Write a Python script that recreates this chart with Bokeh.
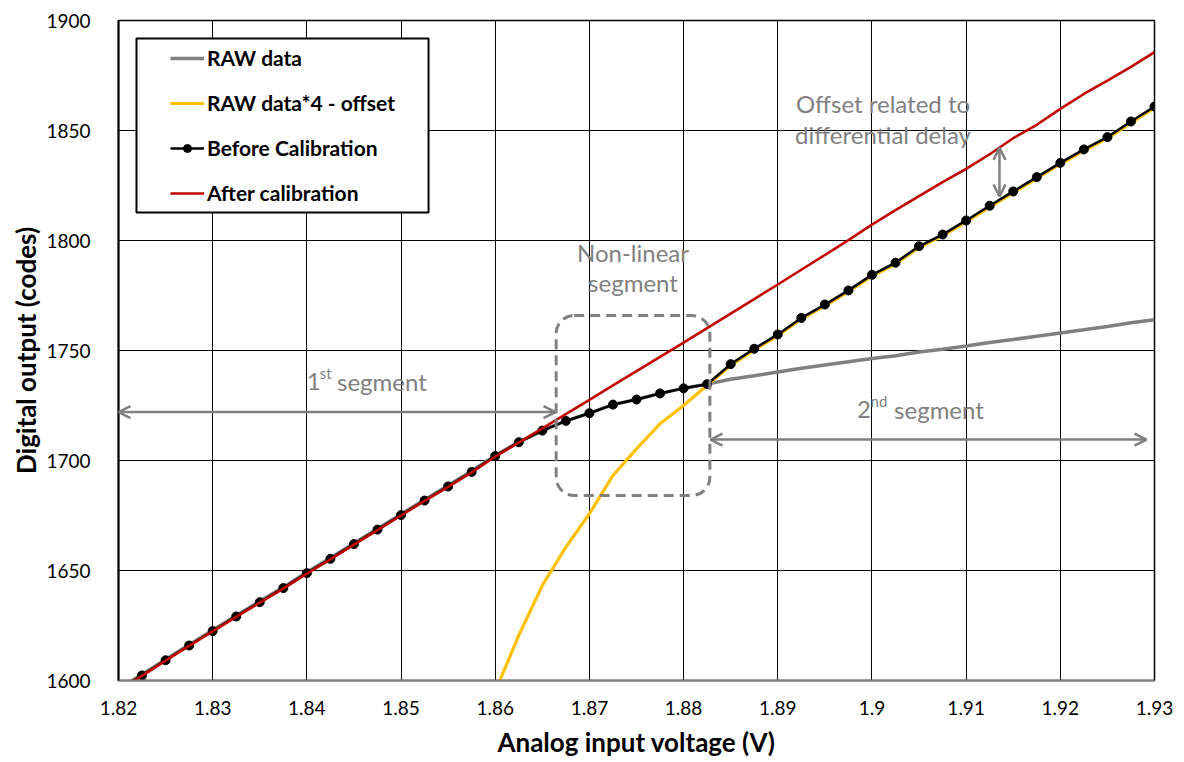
from bokeh.plotting import figure
from bokeh.models import (Range1d, FixedTicker, Legend, LegendItem, Label,
                          Arrow, OpenHead, BoxAnnotation)
from bokeh.embed import file_html
from bokeh.resources import INLINE

# ---------------- data ----------------
voltage = [1.82, 1.8225, 1.825, 1.8275, 1.83, 1.8325, 1.835, 1.8375, 1.84, 1.8425,
           1.845, 1.8475, 1.85, 1.8525, 1.855, 1.8575, 1.86, 1.8625, 1.865, 1.8675,
           1.87, 1.8725, 1.875, 1.8775, 1.88, 1.8825, 1.885, 1.8875, 1.89, 1.8925,
           1.895, 1.8975, 1.90, 1.9025, 1.905, 1.9075, 1.91, 1.9125, 1.915, 1.9175,
           1.92, 1.9225, 1.925, 1.9275, 1.93]

before_cal = [1595.8, 1602.3, 1609.2, 1615.9, 1622.5, 1629.1, 1635.6, 1642.0, 1648.8, 1655.3,
              1662.0, 1668.6, 1675.2, 1681.8, 1688.2, 1694.8, 1702.0, 1708.3, 1713.6, 1718.0,
              1721.5, 1725.4, 1727.7, 1730.5, 1732.8, 1734.7, 1743.8, 1750.8, 1757.3, 1764.8,
              1770.9, 1777.3, 1784.4, 1789.9, 1797.4, 1802.7, 1809.1, 1815.8, 1822.3, 1828.8,
              1835.3, 1841.4, 1847.0, 1854.1, 1860.9]

raw_data = [1596.2, 1602.7, 1609.6, 1616.3, 1622.9, 1629.5, 1636.0, 1642.4, 1649.2, 1655.7,
            1662.4, 1669.0, 1675.6, 1682.2, 1688.6, 1695.2, 1702.3, 1708.4, 1713.6, 1718.0,
            1721.5, 1725.4, 1727.7, 1730.5, 1732.8, 1734.7, 1736.9, 1738.5, 1740.2, 1741.9,
            1743.4, 1744.9, 1746.4, 1747.6, 1749.3, 1750.6, 1752.0, 1753.6, 1755.0, 1756.5,
            1758.0, 1759.4, 1760.9, 1762.6, 1764.0]

after_cal = [1595.5, 1602.1, 1609.0, 1615.7, 1622.3, 1628.9, 1635.4, 1641.8, 1648.6, 1655.1,
             1661.8, 1668.4, 1675.0, 1681.6, 1688.0, 1694.6, 1701.8, 1708.1, 1714.6, 1721.1,
             1727.6, 1734.1, 1740.6, 1747.1, 1753.6, 1760.2, 1766.8, 1773.4, 1780.0, 1786.7,
             1793.4, 1800.2, 1807.2, 1813.8, 1820.2, 1826.5, 1832.6, 1839.2, 1846.5, 1852.6,
             1859.8, 1866.6, 1872.7, 1878.9, 1885.6]

scaled_voltage = [1.8575, 1.86, 1.8625, 1.865, 1.8675, 1.87, 1.8725, 1.875, 1.8775, 1.88,
                  1.8825, 1.885, 1.8875, 1.89, 1.8925, 1.895, 1.8975, 1.90, 1.9025, 1.905,
                  1.9075, 1.91, 1.9125, 1.915, 1.9175, 1.92, 1.9225, 1.925, 1.9275, 1.93]
raw_x4_offset = [1568.0, 1595.0, 1620.5, 1643.2, 1660.6, 1675.8, 1693.2, 1705.3, 1716.7, 1725.0,
                 1734.2, 1743.2, 1750.2, 1756.7, 1764.2, 1770.3, 1776.7, 1783.8, 1789.3, 1796.8,
                 1802.1, 1808.5, 1815.2, 1821.7, 1828.2, 1834.7, 1840.8, 1846.4, 1853.5, 1860.3]

x_ticks = [1.82, 1.83, 1.84, 1.85, 1.86, 1.87, 1.88, 1.89, 1.9, 1.91, 1.92, 1.93]
x_tick_labels = ["1.82", "1.83", "1.84", "1.85", "1.86", "1.87", "1.88", "1.89", "1.9",
                 "1.91", "1.92", "1.93"]
y_ticks = [1600, 1650, 1700, 1750, 1800, 1850, 1900]
y_tick_labels = ["1600", "1650", "1700", "1750", "1800", "1850", "1900"]

series_names = ["RAW data", "RAW data*4 - offset", "Before Calibration", "After calibration"]

# ---------------- style ----------------
FONT = "Lato"
GRAY = "#808080"
YELLOW = "#FFC000"
RED = "#C00000"
BLACK = "#000000"

p = figure(width=1180, height=760,
           x_range=Range1d(1.82, 1.93), y_range=Range1d(1600, 1900),
           output_backend="svg", toolbar_location=None,
           min_border_left=118, min_border_right=26,
           min_border_top=20, min_border_bottom=80)

p.background_fill_color = "white"
p.border_fill_color = "white"
p.outline_line_color = BLACK
p.outline_line_width = 1.5

# axes
p.xaxis.ticker = FixedTicker(ticks=x_ticks)
p.yaxis.ticker = FixedTicker(ticks=y_ticks)
p.xaxis.major_label_overrides = dict(zip(x_ticks, x_tick_labels))
p.yaxis.major_label_overrides = dict(zip(y_ticks, y_tick_labels))
for ax in (p.xaxis[0], p.yaxis[0]):
    ax.major_tick_line_color = None
    ax.minor_tick_line_color = None
    ax.major_label_text_font = FONT
    ax.major_label_text_font_size = "19px"
    ax.major_label_text_color = BLACK
    ax.axis_label_text_font = FONT
    ax.axis_label_text_font_style = "bold"
    ax.axis_label_text_font_size = "26px"
    ax.axis_label_text_color = BLACK
p.xaxis.axis_label = "Analog input voltage (V)"
p.yaxis.axis_label = "Digital output (codes)"
p.xaxis.axis_line_color = GRAY
p.xaxis.axis_line_width = 2
p.yaxis.axis_line_color = BLACK
p.yaxis.axis_line_width = 2
p.xaxis.major_label_standoff = 14
p.yaxis.major_label_standoff = 22
p.xaxis.axis_label_standoff = 8
p.yaxis.axis_label_standoff = 1

# grid
p.xgrid.ticker = FixedTicker(ticks=x_ticks)
p.ygrid.ticker = FixedTicker(ticks=y_ticks)
for g in (p.xgrid[0], p.ygrid[0]):
    g.grid_line_color = BLACK
    g.grid_line_width = 1
    g.grid_line_alpha = 1.0

# ---------------- series ----------------
r_raw = p.line(voltage, raw_data, line_color=GRAY, line_width=3.5)
r_yel = p.line(scaled_voltage, raw_x4_offset, line_color=YELLOW, line_width=3.2)
r_blk = p.line(voltage, before_cal, line_color=BLACK, line_width=2.6)
r_dot = p.scatter(voltage, before_cal, marker="circle", size=9,
                  fill_color=BLACK, line_color=BLACK)
r_red = p.line(voltage, after_cal, line_color=RED, line_width=2.6)

# ---------------- annotations ----------------
# non-linear segment dashed rounded box
p.add_layout(BoxAnnotation(left=1.86647, right=1.88279, bottom=1684.1, top=1765.9,
                           fill_alpha=0, line_color=GRAY, line_alpha=1.0, line_width=3,
                           line_dash="10 6", border_radius=18))

head = dict(size=12, line_color=GRAY, line_width=2.5)
# 1st segment arrow
p.add_layout(Arrow(x_start=1.82, y_start=1722.0, x_end=1.8664, y_end=1722.0,
                   start=OpenHead(**head), end=OpenHead(**head),
                   line_color=GRAY, line_width=2.5))
# 2nd segment arrow
p.add_layout(Arrow(x_start=1.88286, y_start=1709.5, x_end=1.92915, y_end=1709.5,
                   start=OpenHead(**head), end=OpenHead(**head),
                   line_color=GRAY, line_width=2.5))
# offset arrow
p.add_layout(Arrow(x_start=1.91354, y_start=1820.0, x_end=1.91354, y_end=1842.1,
                   start=OpenHead(**head), end=OpenHead(**head),
                   line_color=GRAY, line_width=2.5))

def lbl(x, y, text, size="24px", align="left"):
    p.add_layout(Label(x=x, y=y, text=text, text_font=FONT, text_font_size=size,
                       text_color=GRAY, text_align=align, text_baseline="alphabetic"))

lbl(1.84000, 1736.0, "1")
lbl(1.84138, 1739.8, "st", size="15px")
lbl(1.84320, 1736.0, "segment")
lbl(1.89840, 1723.3, "2")
lbl(1.89985, 1727.2, "nd", size="15px")
lbl(1.90235, 1723.3, "segment")
lbl(1.87463, 1794.4, "Non-linear", align="center")
lbl(1.87463, 1780.8, "segment", align="center")
lbl(1.90117, 1862.5, "Offset related to", align="center")
lbl(1.90117, 1848.4, "differential delay", align="center")

# legend frame
p.add_layout(BoxAnnotation(left=1.82191, right=1.85292, bottom=1812.7, top=1891.8,
                           fill_color="white", fill_alpha=1.0,
                           line_color=BLACK, line_alpha=1.0, line_width=2))

legend = Legend(items=[LegendItem(label=series_names[0], renderers=[r_raw]),
                       LegendItem(label=series_names[1], renderers=[r_yel]),
                       LegendItem(label=series_names[2], renderers=[r_blk, r_dot]),
                       LegendItem(label=series_names[3], renderers=[r_red])],
                location=(52, 475), padding=0, margin=0, spacing=20,
                label_height=20, glyph_height=20, glyph_width=34, label_standoff=3,
                label_text_font=FONT, label_text_font_style="bold",
                label_text_font_size="21px", label_text_color=BLACK,
                border_line_alpha=0, background_fill_alpha=0)
p.add_layout(legend)

open("out.html", "w").write(file_html(p, INLINE))
